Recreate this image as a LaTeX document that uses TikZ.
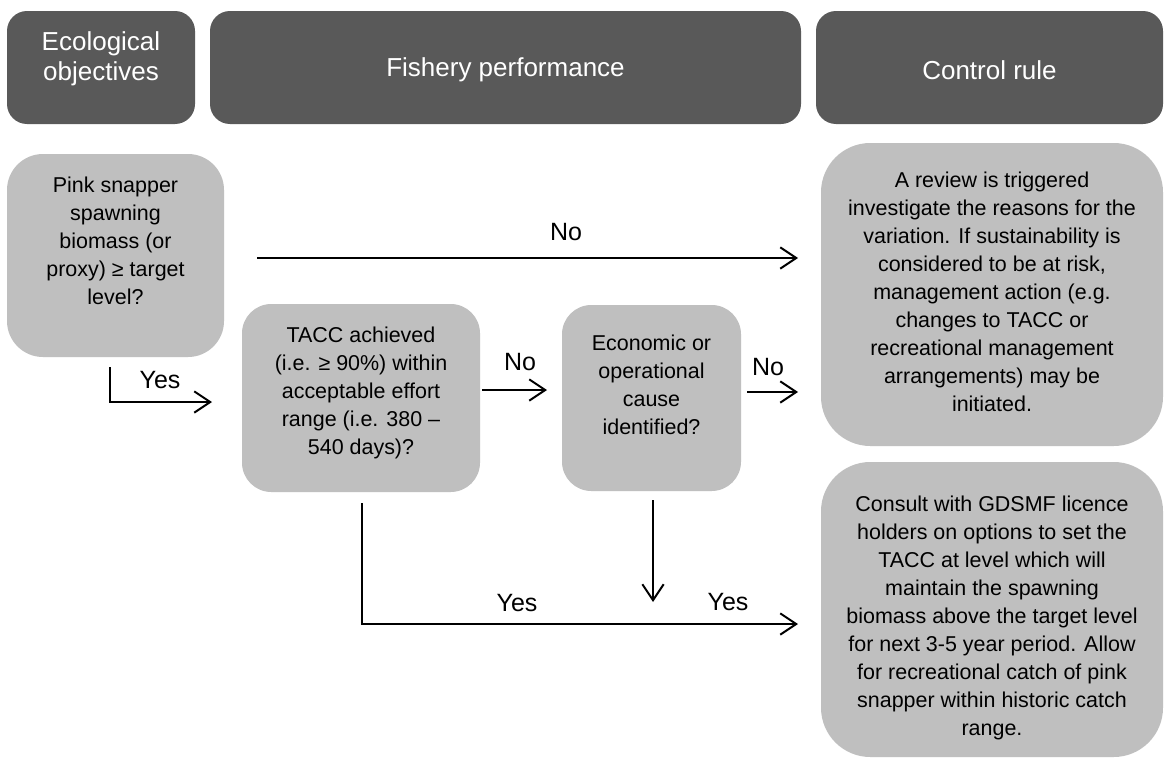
\documentclass[tikz,border=0pt]{standalone}
\usepackage{fontspec}
\setmainfont{Liberation Sans}
\usetikzlibrary{arrows.meta,calc}
\definecolor{hdrgray}{HTML}{595959}
\definecolor{boxgray}{HTML}{BFBFBF}
\begin{document}
\begin{tikzpicture}[x=0.75pt,y=-0.75pt,
  hdrbox/.style={fill=hdrgray, draw=none, rounded corners=15pt, inner sep=0pt, outer sep=0pt},
  hdrtext/.style={text=white, font=\fontsize{19.5}{22.5}\selectfont, align=center, inner sep=0pt},
  qbox/.style={fill=boxgray, draw=none, inner sep=0pt, outer sep=0pt},
  bodytext/.style={font=\fontsize{16.1}{21}\selectfont, align=center, inner sep=0pt, text=black},
  lbl/.style={font=\fontsize{18.75}{22}\selectfont, inner sep=0pt},
  arr/.style={line width=1.5pt, -{Straight Barb[length=12pt,width=16pt,line width=1.5pt]}},
  ln/.style={line width=1.5pt}
]
\fill[white] (0,0) rectangle (1171,760);
\useasboundingbox (0,0) rectangle (1171,760);

% headers
\node[hdrbox, minimum width={188*0.75pt}, minimum height={113*0.75pt}] (h1) at (101,67.5) {};
\node[hdrbox, minimum width={591*0.75pt}, minimum height={113*0.75pt}] (h2) at (505.5,67.5) {};
\node[hdrbox, minimum width={347*0.75pt}, minimum height={113*0.75pt}] (h3) at (989.5,67.5) {};
\node[hdrtext] (h1t) at (101,59) {Ecological\\objectives};
\node[hdrtext] (h2t) at (505.5,70) {Fishery performance};
\node[hdrtext] (h3t) at (989.5,70) {Control rule};

% boxes
\node[qbox, rounded corners=27pt, minimum width={217*0.75pt}, minimum height={203*0.75pt}] (qa) at (115.5,255.5) {};
\node[bodytext] (qat) at (115.5,241) {Pink snapper\\spawning\\biomass (or\\proxy) ≥ target\\level?};

\node[qbox, rounded corners=22pt, minimum width={238*0.75pt}, minimum height={188*0.75pt}] (qb) at (361,398) {};
\node[bodytext] (qbt) at (361,393) {TACC achieved\\(i.e. ≥ 90\%) within\\acceptable effort\\range (i.e. 380 –\\540 days)?};

\node[qbox, rounded corners=22pt, minimum width={179*0.75pt}, minimum height={186*0.75pt}] (qc) at (651.5,398) {};
\node[bodytext] (qct) at (651.5,385) {Economic or\\operational\\cause\\identified?};

\node[qbox, rounded corners=37pt, minimum width={342*0.75pt}, minimum height={303*0.75pt}] (qd) at (992,294.5) {};
\node[bodytext] (qdt) at (992,292) {A review is triggered\\investigate the reasons for the\\variation. If sustainability is\\considered to be at risk,\\management action (e.g.\\changes to TACC or\\recreational management\\arrangements) may be\\initiated.};

\node[qbox, rounded corners=37pt, minimum width={342*0.75pt}, minimum height={295*0.75pt}] (qe) at (992,609.5) {};
\node[bodytext] (qet) at (992,618) {Consult with GDSMF licence\\holders on options to set the\\TACC at level which will\\maintain the spawning\\biomass above the target level\\for next 3-5 year period. Allow\\for recreational catch of pink\\snapper within historic catch\\range.};

% connectors
\coordinate (noS) at (257,258);
\coordinate (noE) at ($(qd.west |- noS)+(-23,0)$);
\draw[arr] (noS) -- (noE);
\node[lbl] (lno1) at (566,232) {No};

\coordinate (ya1) at ($(qa.south)+(-5.5,10)$);
\coordinate (ya2) at (212,402);
\draw[arr] (ya1) |- (ya2);
\node[lbl] (lyes1) at (160,380) {Yes};

\coordinate (bc1) at ($(qb.east)+(2,-8)$);
\coordinate (bc2) at ($(qc.west)+(-15,-8)$);
\draw[arr] (bc1) -- (bc2);
\node[lbl] (lno2) at (520,362) {No};

\coordinate (cd1) at ($(qc.east)+(6,-6)$);
\coordinate (cd2) at ($(qd.west |- cd1)+(-23,0)$);
\draw[arr] (cd1) -- (cd2);
\node[lbl] (lno3) at (768,367) {No};

\coordinate (cdown1) at ($(qc.south)+(1.5,9)$);
\coordinate (cdown2) at ($(qc.south)+(1.5,111)$);
\draw[arr] (cdown1) -- (cdown2);

\coordinate (by1) at ($(qb.south)+(1,11)$);
\coordinate (by2) at ($(qe.west |- 0,624)+(-23,0)$);
\draw[arr] (by1) |- (by2);
\node[lbl] (lyes2) at (517,603) {Yes};
\node[lbl] (lyes3) at (728,602) {Yes};
\end{tikzpicture}
\end{document}
